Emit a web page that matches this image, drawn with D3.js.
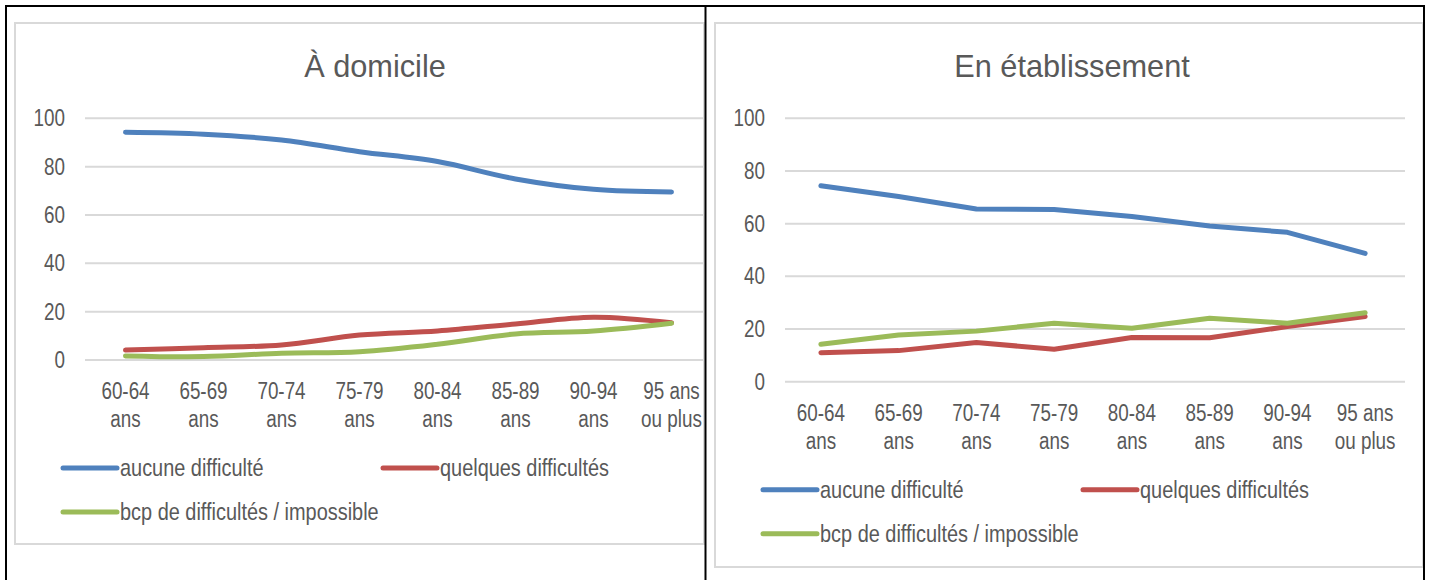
<!DOCTYPE html>
<head>
  <meta charset="utf-8">
  <title>Difficultés par âge</title>
  <script src="https://d3js.org/d3.v7.min.js"></script>
  <style>
    body { margin:0; background:#fff; }
    svg { display:block; }
    text { font-family: "Liberation Sans", Arial, sans-serif; fill:#595959; }
  </style>
</head>
<body>
  <svg width="1431" height="580"></svg>
  <script>
    // age groups (two lines per tick label)
    var categories = ['60-64 ans', '65-69 ans', '70-74 ans', '75-79 ans', '80-84 ans', '85-89 ans', '90-94 ans', '95 ans ou plus'];
    var tickLines = [['60-64','ans'], ['65-69','ans'], ['70-74','ans'], ['75-79','ans'], ['80-84','ans'], ['85-89','ans'], ['90-94','ans'], ['95 ans','ou plus']];
    var yTicks = [0, 20, 40, 60, 80, 100];
    var seriesNames = ['aucune difficulté', 'quelques difficultés', 'bcp de difficultés / impossible'];
    var seriesColors = ['#4f81bd', '#c0504d', '#9bbb59'];

    // à domicile
    var domAucune   = [94.2, 93.4, 91.0, 86.2, 82.1, 74.9, 70.6, 69.5];
    var domQuelques = [4.1, 5.1, 6.2, 10.3, 12.0, 14.9, 17.7, 15.4];
    var domBcp      = [1.7, 1.4, 2.8, 3.4, 6.5, 10.8, 12.0, 15.2];
    // en établissement
    var etabAucune   = [74.4, 70.3, 65.6, 65.4, 62.7, 59.1, 56.7, 48.7];
    var etabQuelques = [11.0, 11.8, 14.9, 12.3, 16.8, 16.7, 20.9, 24.7];
    var etabBcp      = [14.2, 17.7, 19.2, 22.2, 20.3, 24.1, 22.2, 26.2];

    var svg = d3.select('svg');
    var NARROW = 0.82; // text looks like Arial Narrow

    function label(g, x, y, str, size, anchor, sx) {
      return g.append('text')
        .attr('transform', 'translate(' + [x, y] + ') scale(' + (sx || NARROW) + ',1)')
        .attr('text-anchor', anchor || 'start')
        .style('font-size', size + 'px')
        .text(str);
    }

    function chart(opt) {
      var g = svg.append('g');
      // light frame of the chart area
      g.append('rect')
        .attr('x', opt.frame[0]).attr('y', opt.frame[1])
        .attr('width', opt.frame[2] - opt.frame[0]).attr('height', opt.frame[3] - opt.frame[1])
        .attr('fill', '#fff').attr('stroke', '#d9d9d9').attr('stroke-width', 2);

      label(g, opt.titleX, 77, opt.title, 32, 'middle', 0.96);

      var x = d3.scalePoint().domain(categories).range(opt.xRange).padding(0.5);
      var y = d3.scaleLinear().domain([0, 100]).range(opt.yRange);

      // gridlines
      g.selectAll('line.grid').data(yTicks).enter().append('line')
        .attr('x1', opt.gridX[0]).attr('x2', opt.gridX[1])
        .attr('y1', d => y(d)).attr('y2', d => y(d))
        .attr('stroke', '#d9d9d9').attr('stroke-width', 2);

      // y axis labels
      yTicks.forEach(t => {
        label(g, opt.yLabelX, y(t) + 8, String(t), 23, 'end');
      });

      // x axis labels
      categories.forEach((c, i) => {
        label(g, x(c), opt.yRange[0] + 39, tickLines[i][0], 23, 'middle');
        label(g, x(c), opt.yRange[0] + 67, tickLines[i][1], 23, 'middle');
      });

      var line = d3.line()
        .x((d, i) => x(categories[i]))
        .y(d => y(d))
        .curve(opt.curve);

      // draw in order: blue, red, green
      opt.series.forEach((s, k) => {
        g.append('path')
          .attr('d', line(s))
          .attr('fill', 'none')
          .attr('stroke', seriesColors[k])
          .attr('stroke-width', 5)
          .attr('stroke-linecap', 'round')
          .attr('stroke-linejoin', 'round');
      });

      // legend
      var ly = opt.yRange[0] + 108;
      var legPos = [[opt.frame[0] + 48, ly], [opt.frame[0] + 368, ly], [opt.frame[0] + 48, ly + 44]];
      seriesNames.forEach((n, k) => {
        var p = legPos[k];
        g.append('line')
          .attr('x1', p[0]).attr('x2', p[0] + 54)
          .attr('y1', p[1]).attr('y2', p[1])
          .attr('stroke', seriesColors[k]).attr('stroke-width', 5)
          .attr('stroke-linecap', 'round');
        label(g, p[0] + 57, p[1] + 8, n, 24, 'start', 0.83);
      });
    }

    chart({
      title: 'À domicile', titleX: 375,
      frame: [15, 23, 704, 544],
      xRange: [86.5, 710.5], gridX: [85, 703],
      yRange: [360, 118.3], yLabelX: 65,
      curve: d3.curveCatmullRom,
      series: [domAucune, domQuelques, domBcp]
    });

    chart({
      title: 'En établissement', titleX: 1072,
      frame: [715, 23, 1423, 567],
      xRange: [782, 1404], gridX: [785, 1405],
      yRange: [381.7, 118.3], yLabelX: 765,
      curve: d3.curveLinear,
      series: [etabAucune, etabQuelques, etabBcp]
    });

    // black table borders
    var borders = [[6, 5, 6, 580], [705.5, 5, 705.5, 580], [1424, 5, 1424, 580], [5, 6, 1425, 6]];
    svg.selectAll('line.border').data(borders).enter().append('line')
      .attr('x1', d => d[0]).attr('y1', d => d[1])
      .attr('x2', d => d[2]).attr('y2', d => d[3])
      .attr('stroke', '#000').attr('stroke-width', 2);
  </script>
</body>
